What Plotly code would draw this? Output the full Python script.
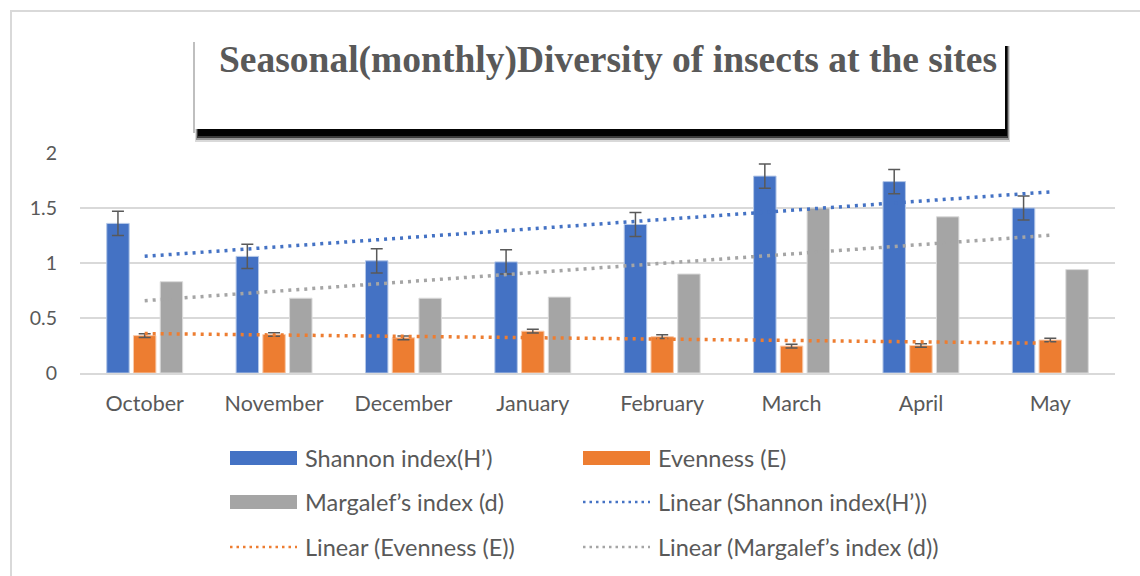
import numpy as np
import plotly.graph_objects as go

months = ["October", "November", "December", "January", "February", "March", "April", "May"]
shannon = [1.36, 1.06, 1.02, 1.01, 1.35, 1.79, 1.74, 1.50]
shannon_err = [0.11, 0.11, 0.11, 0.11, 0.11, 0.11, 0.11, 0.11]
evenness = [0.34, 0.35, 0.32, 0.38, 0.33, 0.245, 0.25, 0.30]
evenness_err = [0.017, 0.017, 0.017, 0.017, 0.017, 0.017, 0.017, 0.017]
margalef = [0.83, 0.68, 0.68, 0.69, 0.90, 1.50, 1.42, 0.94]

names = ["Shannon index(H’)", "Evenness (E)", "Margalef’s index (d)"]
colors = ["#4472C4", "#ED7D31", "#A5A5A5"]

W, H = 1140, 576
L, R, T, B = 80, 1115, 153, 373  # plot area in pixels

def px(x):
    return (x - L) / (R - L)

def py(y):
    return (B - y) / (B - T)

fig = go.Figure()

err_style = dict(color="#595959", thickness=1.5, width=6)
fig.add_trace(go.Bar(x=months, y=shannon, name=names[0], marker=dict(color=colors[0], line=dict(color="#B4C7E7", width=1)),
                     error_y=dict(type="data", array=shannon_err, **err_style)))
fig.add_trace(go.Bar(x=months, y=evenness, name=names[1], marker=dict(color=colors[1], line=dict(color="#F8CBAD", width=1)),
                     error_y=dict(type="data", array=evenness_err, **err_style)))
fig.add_trace(go.Bar(x=months, y=margalef, name=names[2], marker=dict(color=colors[2], line=dict(color="#DBDBDB", width=1))))

# linear trendlines (least squares, like Excel)
xi = np.arange(1, len(months) + 1)
for vals, col in zip([shannon, evenness, margalef], colors):
    k, b = np.polyfit(xi, vals, 1)
    fig.add_trace(go.Scatter(x=months, y=k * xi + b, mode="lines", line=dict(color=col, width=3.5, dash="3px,5px"),
                             hoverinfo="skip"))

shapes = []
# outer chart border
shapes.append(dict(type="rect", xref="paper", yref="paper", x0=px(11), x1=px(1160), y0=py(11), y1=py(600),
                   line=dict(color="#D9D9D9", width=2), fillcolor="rgba(0,0,0,0)", layer="below"))
# title box with soft shadow
for x0, x1, y1, op in [(195, 1010, 142, 0.15), (196, 1009, 140, 0.3), (197, 1008, 138, 0.6), (198, 1007, 136, 0.95)]:
    shapes.append(dict(type="rect", xref="paper", yref="paper", x0=px(x0), x1=px(x1), y0=py(46), y1=py(y1),
                       line=dict(width=0), fillcolor="rgba(0,0,0,%s)" % op))
shapes.append(dict(type="rect", xref="paper", yref="paper", x0=px(193), x1=px(195), y0=py(42), y1=py(133),
                   line=dict(width=0), fillcolor="rgba(0,0,0,0.25)"))
shapes.append(dict(type="rect", xref="paper", yref="paper", x0=px(195), x1=px(1005), y0=py(40), y1=py(129),
                   line=dict(width=0), fillcolor="white"))

annotations = [dict(text="<b>Seasonal(monthly)Diversity of insects at the sites</b>", xref="paper", yref="paper",
                    x=px(608), y=py(60), showarrow=False, xanchor="center", yanchor="middle",
                    font=dict(family="Liberation Serif", size=37.5, color="#595959"))]

# legend drawn by hand: two columns, three rows
leg_items = [(names[0], colors[0], "bar"), (names[1], colors[1], "bar"),
             (names[2], colors[2], "bar"), ("Linear (Shannon index(H’))", colors[0], "line"),
             ("Linear (Evenness (E))", colors[1], "line"), ("Linear (Margalef’s index (d))", colors[2], "line")]
col_x = [230, 583]
row_y = [458, 502, 547]
for i, (label, col, kind) in enumerate(leg_items):
    x0 = col_x[i % 2]
    y0 = row_y[i // 2]
    if kind == "bar":
        shapes.append(dict(type="rect", xref="paper", yref="paper", x0=px(x0), x1=px(x0 + 67), y0=py(y0 - 7), y1=py(y0 + 7),
                           line=dict(width=0), fillcolor=col))
    else:
        shapes.append(dict(type="line", xref="paper", yref="paper", x0=px(x0), x1=px(x0 + 67), y0=py(y0), y1=py(y0),
                           line=dict(color=col, width=2.5, dash="2.5px,4px")))
    annotations.append(dict(text=label, xref="paper", yref="paper", x=px(x0 + 73), y=py(y0), showarrow=False,
                            xanchor="left", yanchor="middle", font=dict(family="Lato", size=23.5, color="#595959")))

fig.update_layout(
    width=W, height=H,
    margin=dict(l=L, r=W - R, t=T, b=H - B),
    paper_bgcolor="white", plot_bgcolor="white",
    barmode="group", bargap=0.38, bargroupgap=0.16,
    showlegend=False,
    font=dict(family="Lato", size=21, color="#595959"),
    shapes=shapes, annotations=annotations,
    xaxis=dict(showgrid=False, showline=True, linecolor="#D9D9D9", linewidth=1.5, ticks="", ticklabelstandoff=10,
               tickfont=dict(size=21.5, color="#595959")),
    yaxis=dict(range=[0, 2], dtick=0.5, showgrid=True, gridcolor="#D9D9D9", gridwidth=1.5, zeroline=False,
               showline=False, ticks="", ticklabelstandoff=22, tickfont=dict(size=19.5, color="#595959")),
)

fig.write_html("out.html", config={"displayModeBar": False}, post_script="document.body.style.margin='0';")
